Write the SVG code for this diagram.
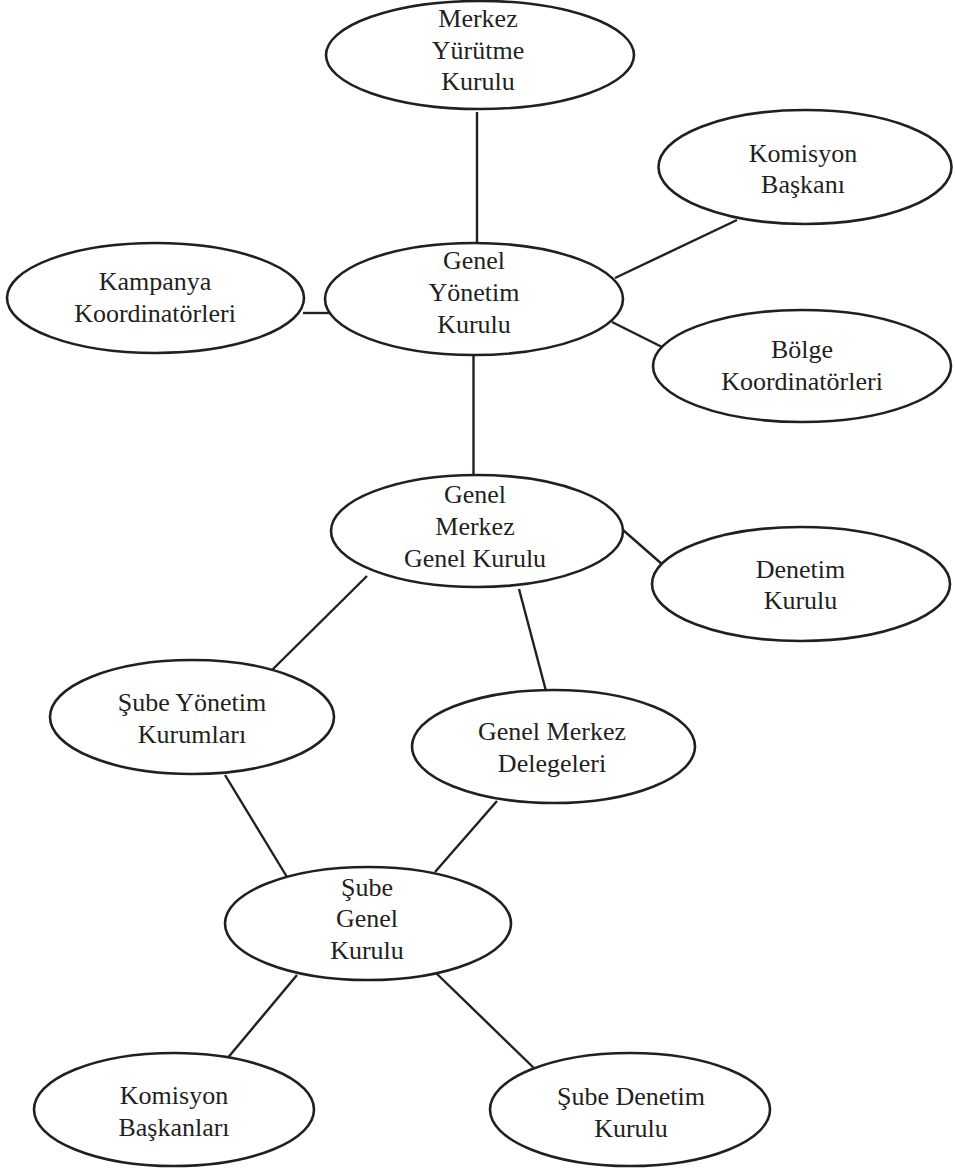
<svg xmlns="http://www.w3.org/2000/svg" width="955" height="1169" viewBox="0 0 955 1169">
<style>
.n ellipse{fill:#fff;stroke:#231f20;stroke-width:2.6}
.n text{font-family:"Liberation Serif","Times New Roman",serif;font-size:26px;fill:#231f20;text-anchor:middle}
#edges line{stroke:#231f20;stroke-width:2.4}
</style>
<rect width="955" height="1169" fill="#fff"/>
<g id="edges">
<line x1="477" y1="112" x2="477" y2="243"/>
<line x1="615" y1="278" x2="737" y2="220"/>
<line x1="303" y1="313" x2="330" y2="313"/>
<line x1="612" y1="322" x2="662" y2="347"/>
<line x1="473.5" y1="355" x2="473.5" y2="475"/>
<line x1="623" y1="530" x2="663" y2="565"/>
<line x1="367" y1="576" x2="269" y2="673"/>
<line x1="519" y1="589" x2="546" y2="691"/>
<line x1="225" y1="775" x2="287" y2="877"/>
<line x1="497" y1="801" x2="435" y2="872"/>
<line x1="297" y1="975" x2="226" y2="1060"/>
<line x1="436" y1="973" x2="537" y2="1071"/>
</g>
<g id="merkez-yurutme" class="n"><ellipse cx="480" cy="55" rx="154" ry="54"/><text x="478" y="27">Merkez</text><text x="478" y="59">Yürütme</text><text x="478" y="90">Kurulu</text></g>
<g id="komisyon-baskani" class="n"><ellipse cx="805" cy="167" rx="146.5" ry="57"/><text x="803" y="162">Komisyon</text><text x="803" y="193">Başkanı</text></g>
<g id="genel-yonetim" class="n"><ellipse cx="474" cy="299" rx="149" ry="56"/><text x="474" y="269">Genel</text><text x="474" y="301">Yönetim</text><text x="474" y="333">Kurulu</text></g>
<g id="kampanya" class="n"><ellipse cx="155.5" cy="298" rx="148.5" ry="55"/><text x="155" y="290">Kampanya</text><text x="155" y="322">Koordinatörleri</text></g>
<g id="bolge" class="n"><ellipse cx="802" cy="366" rx="149" ry="56"/><text x="802" y="358">Bölge</text><text x="802" y="390">Koordinatörleri</text></g>
<g id="genel-merkez-genel-kurulu" class="n"><ellipse cx="477" cy="531" rx="146" ry="56"/><text x="475" y="503">Genel</text><text x="475" y="535">Merkez</text><text x="475" y="567">Genel Kurulu</text></g>
<g id="denetim" class="n"><ellipse cx="801" cy="584" rx="149" ry="57"/><text x="800.5" y="578">Denetim</text><text x="800.5" y="609">Kurulu</text></g>
<g id="sube-yonetim" class="n"><ellipse cx="192" cy="717" rx="142" ry="57"/><text x="192" y="711">Şube Yönetim</text><text x="192" y="743">Kurumları</text></g>
<g id="delegeler" class="n"><ellipse cx="553.5" cy="746.5" rx="141.5" ry="56.5"/><text x="552" y="740">Genel Merkez</text><text x="552" y="772">Delegeleri</text></g>
<g id="sube-genel" class="n"><ellipse cx="368" cy="923.5" rx="143" ry="56.5"/><text x="367" y="896">Şube</text><text x="367" y="927">Genel</text><text x="367" y="959">Kurulu</text></g>
<g id="komisyon-baskanlari" class="n"><ellipse cx="174" cy="1109.5" rx="140" ry="56.5"/><text x="174" y="1104">Komisyon</text><text x="174" y="1136">Başkanları</text></g>
<g id="sube-denetim" class="n"><ellipse cx="630" cy="1109.5" rx="140" ry="56.5"/><text x="631" y="1105">Şube Denetim</text><text x="631" y="1137">Kurulu</text></g>
</svg>
